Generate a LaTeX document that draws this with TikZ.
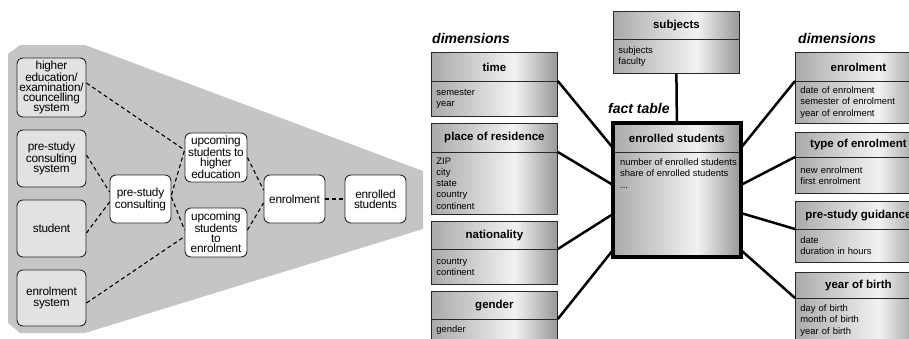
\documentclass[tikz,border=0pt]{standalone}
\usepackage{fontspec}
\setmainfont{Liberation Sans}
\newfontfamily\tightsans[LetterSpace=-2]{Liberation Sans}

\definecolor{bggray}{RGB}{197,197,197}
\definecolor{lightbox}{RGB}{226,226,226}
\definecolor{edgegray}{RGB}{40,40,40}
\definecolor{shL}{RGB}{170,170,170}
\definecolor{shM}{RGB}{242,242,242}
\definecolor{shR}{RGB}{152,152,152}

% metallic left-to-right gradient of the table boxes
\pgfdeclarehorizontalshading{boxshade}{100bp}{color(0bp)=(shL); color(25bp)=(shL); color(58bp)=(shM); color(75bp)=(shR); color(100bp)=(shR)}

\begin{document}
\begin{tikzpicture}[x=1pt,y=-1pt,
  procbox/.style={draw=edgegray, line width=0.9pt, rounded corners=6pt, align=center,
    inner sep=1pt, font=\tightsans\fontsize{11.8}{10.2}\selectfont},
  srcbox/.style={procbox, fill=lightbox, minimum width=69pt},
  midbox/.style={procbox, fill=white, minimum width=61pt, minimum height=48pt},
  flow/.style={draw=black, line width=1.1pt, dash pattern=on 4pt off 3pt},
  dimhead/.style={draw=edgegray, line width=0.8pt, shading=boxshade, anchor=north west,
    minimum width=126pt, inner sep=0pt, font=\fontsize{11.5}{13}\selectfont\bfseries},
  dimbody/.style={draw=edgegray, line width=0.8pt, shading=boxshade, anchor=north west,
    text width=116pt, inner xsep=5pt, inner ysep=0pt, align=left,
    font=\fontsize{9.4}{11.25}\selectfont},
  conn/.style={draw=black, line width=2.5pt},
  grouplabel/.style={anchor=west, inner sep=0pt, font=\fontsize{14}{16}\selectfont\bfseries\itshape}
]
\useasboundingbox (0,0) rectangle (909,338);
\clip (0,0) rectangle (909,338);

% ---------------- process view ----------------
\fill[bggray] (8,54) -- (20,45) -- (85,45) -- (423,171) -- (423,229) -- (85,333) -- (20,333) -- (8,323) -- cycle;

\node[srcbox, minimum height=59pt] (hes) at (51.5,87.5) {higher\\education/\\examination/\\councelling\\system};
\node[srcbox, minimum height=57pt] (pcs) at (51.5,158.5) {pre-study\\consulting\\system};
\node[srcbox, minimum height=57pt] (stu) at (51.5,228.5) {student};
\node[srcbox, minimum height=56pt] (ensys) at (51.5,298) {enrolment\\system};

\node[midbox] (psc) at (140.5,199) {pre-study\\consulting};
\node[midbox, minimum width=62pt, minimum height=49pt] (uhe) at (216,157.5) {upcoming\\students to\\higher\\education};
\node[midbox, minimum width=62pt, minimum height=49pt] (uen) at (216,232.5) {upcoming\\students\\to\\enrolment};
\node[midbox] (enr) at (294.5,199) {enrolment};
\node[midbox] (enst) at (375.5,199) {enrolled\\students};

\draw[flow] ([yshift=4.5pt]hes.east) -- ([yshift=7.5pt]uhe.west);
\draw[flow] ([yshift=3.5pt]pcs.east) -- ([yshift=7pt]psc.west);
\draw[flow] ([yshift=-4.5pt]stu.east) -- ([yshift=-3pt]psc.west);
\draw[flow] ([yshift=-5pt]ensys.east) -- ([yshift=-4pt]uen.west);
\draw[flow] ([yshift=4pt]psc.east) -- ([yshift=7.5pt]uhe.west);
\draw[flow] ([yshift=2pt]psc.east) -- ([yshift=2.5pt]uen.west);
\draw[flow] (uhe.east) -- ([yshift=9pt]enr.west);
\draw[flow] ([yshift=2.5pt]uen.east) -- ([yshift=-4pt]enr.west);
\draw[flow] (enr.east) -- (enst.west);

% ---------------- star schema ----------------
\node[grouplabel] (dimL) at (432,38) {dimensions};
\node[grouplabel] (dimR) at (798,38) {dimensions};
\node[grouplabel] (factL) at (608,108) {fact table};

% left dimensions
\node[dimhead, minimum height=29pt] (timeH) at (431,52) {time};
\node[dimbody, minimum height=35pt] (timeB) at (431,81) {semester\\year};
\node[dimhead, minimum height=29pt] (placeH) at (431,123) {place of residence};
\node[dimbody, minimum height=62pt] (placeB) at (431,152) {ZIP\\city\\state\\country\\continent};
\node[dimhead, minimum height=28pt] (natH) at (431,221) {nationality};
\node[dimbody, minimum height=35pt] (natB) at (431,249) {country\\continent};
\node[dimhead, minimum height=28pt] (genH) at (431,291) {gender};
\node[dimbody, minimum height=22pt] (genB) at (431,319) {gender};

% top dimension
\node[dimhead, minimum height=28pt] (subjH) at (613,11) {subjects};
\node[dimbody, minimum height=34pt] (subjB) at (613,39) {subjects\\faculty};

% right dimensions
\node[dimhead, minimum height=29pt] (enrH) at (795,52) {enrolment};
\node[dimbody, minimum height=42pt] (enrB) at (795,81) {date of enrolment\\semester of enrolment\\year of enrolment};
\node[dimhead, minimum height=25pt] (typeH) at (795,132) {type of enrolment};
\node[dimbody, minimum height=36pt] (typeB) at (795,157) {new enrolment\\first enrolment};
\node[dimhead, minimum height=28pt] (preH) at (795,201) {pre-study guidance};
\node[dimbody, minimum height=33pt] (preB) at (795,229) {date\\duration in hours};
\node[dimhead, minimum height=26pt] (yobH) at (795,272) {year of birth};
\node[dimbody, minimum height=44pt] (yobB) at (795,298) {day of birth\\month of birth\\year of birth};

% fact table
\node[dimhead, minimum width=127pt, minimum height=29pt] (factH) at (613,123) {enrolled students};
\node[dimbody, text width=117pt, minimum height=104pt] (factB) at (613,152) {};
\node[anchor=north west, inner sep=0pt, align=left, font=\fontsize{9.4}{11.25}\selectfont] (factT) at (620,158.5)
  {number of enrolled students\\share of enrolled students\\...};
\draw[line width=3.5pt, draw=black] (factH.north west) rectangle (factB.south east);

% connectors between dimensions and fact table
\draw[conn] (timeB.north east) -- ([yshift=4pt]factB.north west);
\draw[conn] (placeB.north east) -- ([yshift=-33pt]factB.north west);
\draw[conn] (natB.north east) -- ([yshift=-62pt]factB.north west);
\draw[conn] (genB.north east) -- ([yshift=-98pt]factB.north west);
\draw[conn] (subjB.south) -- (factH.north);
\draw[conn] (enrB.north west) -- ([yshift=4pt]factB.north east);
\draw[conn] (typeB.north west) -- ([yshift=-33pt]factB.north east);
\draw[conn] (preB.north west) -- ([yshift=-61pt]factB.north east);
\draw[conn] (yobB.north west) -- ([yshift=-98pt]factB.north east);
\end{tikzpicture}
\end{document}
